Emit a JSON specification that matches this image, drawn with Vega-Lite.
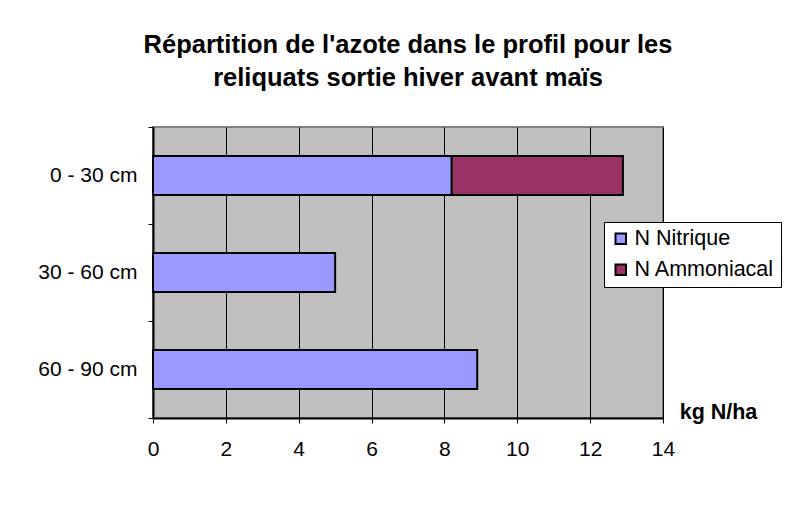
{
  "$schema": "https://vega.github.io/schema/vega-lite/v6.json",
  "autosize": {"type": "none"},
  "padding": {"left": 153, "top": 127, "right": 124, "bottom": 105},
  "width": 510,
  "height": 291,
  "background": "white",
  "title": {
    "text": ["Répartition de l'azote dans le profil pour les", "reliquats sortie hiver avant maïs"],
    "font": "Liberation Sans",
    "fontSize": 25.5,
    "fontWeight": "bold",
    "lineHeight": 33,
    "color": "black",
    "anchor": "middle",
    "offset": 25
  },
  "data": {
    "values": [
      {"horizon": "0 - 30 cm", "forme": "N Nitrique", "azote": 8.2},
      {"horizon": "0 - 30 cm", "forme": "N Ammoniacal", "azote": 4.7},
      {"horizon": "30 - 60 cm", "forme": "N Nitrique", "azote": 5.0},
      {"horizon": "60 - 90 cm", "forme": "N Nitrique", "azote": 8.9}
    ]
  },
  "mark": {"type": "bar", "stroke": "black", "strokeWidth": 2, "height": {"band": 0.4}},
  "encoding": {
    "y": {
      "field": "horizon",
      "type": "nominal",
      "sort": ["0 - 30 cm", "30 - 60 cm", "60 - 90 cm"],
      "scale": {"paddingInner": 0, "paddingOuter": 0},
      "axis": {
        "title": null,
        "tickBand": "extent",
        "tickSize": 5,
        "tickColor": "black",
        "domainColor": "black",
        "domainWidth": 2,
        "labelFont": "Liberation Sans",
        "labelFontSize": 21,
        "labelColor": "black",
        "labelPadding": 11,
        "grid": false
      }
    },
    "x": {
      "field": "azote",
      "type": "quantitative",
      "stack": "zero",
      "scale": {"domain": [0, 14], "nice": false},
      "axis": {
        "title": "kg N/ha",
        "titleX": 565,
        "titleY": -6,
        "titleAlign": "center",
        "titleBaseline": "middle",
        "titleFont": "Liberation Sans",
        "titleFontSize": 21.5,
        "titleFontWeight": "bold",
        "titleColor": "black",
        "values": [0, 2, 4, 6, 8, 10, 12, 14],
        "tickSize": 5,
        "tickColor": "black",
        "domainColor": "black",
        "domainWidth": 2,
        "grid": true,
        "gridColor": "black",
        "gridWidth": 1,
        "gridOpacity": 1,
        "labelFont": "Liberation Sans",
        "labelFontSize": 21,
        "labelColor": "black",
        "labelPadding": 15,
        "labelFlush": false
      }
    },
    "color": {
      "field": "forme",
      "type": "nominal",
      "scale": {"domain": ["N Nitrique", "N Ammoniacal"], "range": ["#9999FF", "#993366"]},
      "legend": {
        "title": null,
        "orient": "none",
        "legendX": 451,
        "legendY": 95,
        "direction": "vertical",
        "fillColor": "white",
        "strokeColor": "black",
        "padding": 6,
        "symbolType": "square",
        "symbolSize": 110,
        "symbolStrokeColor": "black",
        "symbolStrokeWidth": 2,
        "symbolOpacity": 1,
        "labelFont": "Liberation Sans",
        "labelFontSize": 21.5,
        "labelColor": "black",
        "labelOffset": 3,
        "labelLimit": 300,
        "rowPadding": 8
      }
    },
    "order": {"field": "forme", "sort": "descending"}
  },
  "config": {
    "view": {"fill": "#C0C0C0", "stroke": "#808080", "strokeWidth": 2}
  }
}
